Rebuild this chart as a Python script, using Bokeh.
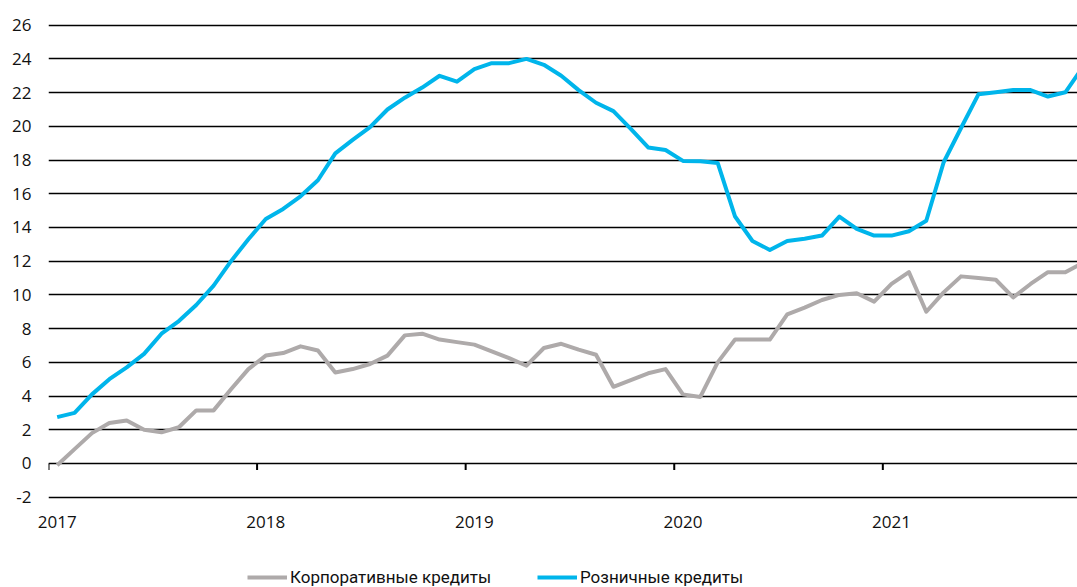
from bokeh.plotting import figure
from bokeh.layouts import column
from bokeh.models import Range1d, FixedTicker, Legend, LegendItem
from bokeh.embed import file_html
from bokeh.resources import INLINE

years = ["2017", "2018", "2019", "2020", "2021"]
months = list(range(60))  # Jan 2017 .. Dec 2021

corporate = [-0.1, 0.85, 1.8, 2.4, 2.55, 2.0, 1.85, 2.15, 3.15, 3.15,
             4.4, 5.6, 6.4, 6.55, 6.95, 6.7, 5.4, 5.6, 5.9, 6.4,
             7.6, 7.7, 7.35, 7.2, 7.05, 6.65, 6.25, 5.8, 6.85, 7.1,
             6.75, 6.45, 4.55, 4.95, 5.35, 5.6, 4.1, 3.95, 6.0, 7.35,
             7.35, 7.35, 8.85, 9.25, 9.7, 10.0, 10.1, 9.6, 10.65, 11.35,
             9.0, 10.15, 11.1, 11.0, 10.9, 9.85, 10.65, 11.35, 11.35, 11.9]

retail = [2.75, 3.0, 4.1, 5.0, 5.7, 6.5, 7.7, 8.45, 9.4, 10.55,
          12.0, 13.3, 14.5, 15.1, 15.85, 16.8, 18.4, 19.2, 19.95, 21.0,
          21.7, 22.3, 23.0, 22.65, 23.4, 23.75, 23.75, 24.0, 23.65, 23.0,
          22.15, 21.4, 20.9, 19.85, 18.75, 18.6, 17.95, 17.93, 17.83, 14.65,
          13.2, 12.67, 13.2, 13.33, 13.52, 14.65, 13.92, 13.52, 13.52, 13.78,
          14.4, 17.87, 19.9, 21.9, 22.02, 22.15, 22.15, 21.77, 22.02, 23.5]

series_names = ["Корпоративные кредиты", "Розничные кредиты"]

y_ticks = list(range(-2, 27, 2))
year_starts = [12 * k for k in range(len(years))]

GREY = "#AEAAAA"
CYAN = "#00B5EB"
TICK_FONT = "Open Sans"
LEGEND_FONT = "Roboto"

p = figure(frame_width=1029, frame_height=480,
           x_range=Range1d(-0.5, 58.7), y_range=Range1d(-2.196, 26.279),
           output_backend="svg", toolbar_location=None,
           min_border_left=48, min_border_right=0, min_border_top=20,
           min_border_bottom=45, outline_line_color=None,
           background_fill_color="white", border_fill_color="white")

# grid
p.xgrid.grid_line_color = None
p.ygrid.ticker = FixedTicker(ticks=y_ticks)
p.ygrid.grid_line_color = "black"
p.ygrid.grid_line_width = 1.6
p.ygrid.grid_line_alpha = 1.0

# y axis
p.yaxis.ticker = FixedTicker(ticks=y_ticks)
p.yaxis.major_label_overrides = {t: str(t) for t in y_ticks}
p.yaxis.axis_line_color = None
p.yaxis.major_tick_line_color = None
p.yaxis.minor_tick_line_color = None
p.yaxis.major_tick_out = 0
p.yaxis.major_label_text_font = TICK_FONT
p.yaxis.major_label_text_font_size = "17px"
p.yaxis.major_label_text_color = "#111111"
p.yaxis.major_label_standoff = 17

# x axis (labels only, centred on January of each year)
p.xaxis.ticker = FixedTicker(ticks=year_starts)
p.xaxis.major_label_overrides = {m: y for m, y in zip(year_starts, years)}
p.xaxis.axis_line_color = None
p.xaxis.major_tick_line_color = None
p.xaxis.minor_tick_line_color = None
p.xaxis.major_tick_out = 0
p.xaxis.major_label_text_font = TICK_FONT
p.xaxis.major_label_text_font_size = "17px"
p.xaxis.major_label_text_color = "#111111"
p.xaxis.major_label_standoff = 15

# year-boundary tick marks hanging below the zero line
bounds = [m - 0.5 for m in year_starts]
p.segment(x0=bounds, y0=[0] * len(bounds), x1=bounds, y1=[-0.38] * len(bounds),
          line_color="black", line_width=2)

p.line(months, corporate, line_color=GREY, line_width=4, line_join="round")
p.line(months, retail, line_color=CYAN, line_width=4, line_join="round")

# legend strip below the chart (single-point lines draw nothing, only legend glyphs)
lg = figure(width=1077, height=42, output_backend="svg", toolbar_location=None,
            x_axis_type=None, y_axis_type=None, outline_line_color=None,
            min_border_left=0, min_border_right=0, min_border_top=0,
            min_border_bottom=0)
lg.grid.grid_line_color = None
r1 = lg.line(months[:1], corporate[:1], line_color=GREY, line_width=4)
r2 = lg.line(months[:1], retail[:1], line_color=CYAN, line_width=4)

for name, rend, xloc in [(series_names[0], r1, 199), (series_names[1], r2, 489)]:
    leg = Legend(items=[LegendItem(label=name, renderers=[rend])],
                 orientation="horizontal", location=(xloc, 0),
                 glyph_width=40, glyph_height=20, label_height=20,
                 label_standoff=3, padding=3, margin=0,
                 border_line_color=None, background_fill_alpha=0,
                 label_text_font=LEGEND_FONT,
                 label_text_font_size="17px", label_text_color="#111111")
    lg.add_layout(leg)

layout = column(p, lg, spacing=0)
open("out.html", "w").write(file_html(layout, INLINE))
